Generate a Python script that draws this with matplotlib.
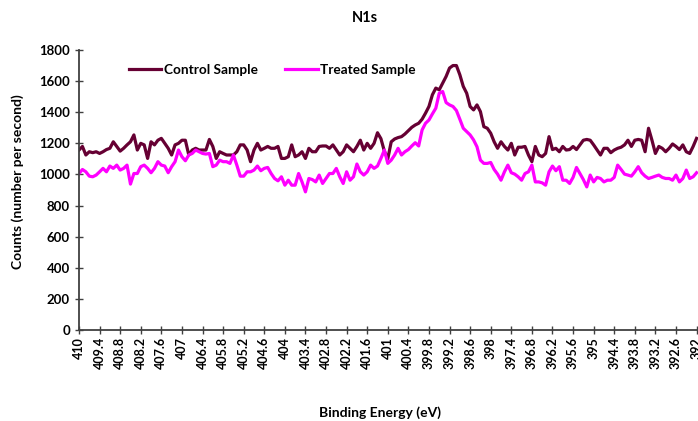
import numpy as np
import matplotlib
matplotlib.use("Agg")
import matplotlib.pyplot as plt

plt.rcParams['font.family'] = ['Lato', 'DejaVu Sans']
plt.rcParams['font.weight'] = 'bold'

# binding energy, 0.1 eV steps from 410 down to 392
energy = np.round(np.arange(4100, 3919, -1) / 10.0, 1)

control = [
    1157, 1180, 1125, 1146, 1140, 1146, 1135, 1146, 1160, 1168,
    1210, 1180, 1150, 1168, 1190, 1210, 1254, 1157, 1200, 1190,
    1103, 1210, 1190, 1220, 1232, 1200, 1168, 1125, 1190, 1200,
    1220, 1220, 1125, 1157, 1168, 1157, 1157, 1157, 1225, 1180,
    1103, 1146, 1135, 1125, 1125, 1125, 1146, 1190, 1190, 1157,
    1082, 1157, 1200, 1157, 1168, 1180, 1168, 1168, 1180, 1103,
    1103, 1114, 1190, 1114, 1125, 1146, 1103, 1168, 1146, 1146,
    1180, 1183, 1183, 1168, 1190, 1157, 1125, 1146, 1190, 1168,
    1146, 1180, 1220, 1157, 1200, 1168, 1200, 1268, 1230, 1150,
    1100, 1210, 1228, 1237, 1243, 1260, 1282, 1303, 1318, 1329,
    1355, 1394, 1437, 1512, 1555, 1544, 1587, 1630, 1684, 1700,
    1700, 1641, 1566, 1522, 1437, 1415, 1447, 1404, 1307, 1297,
    1265, 1210, 1168, 1210, 1180, 1157, 1200, 1125, 1175, 1175,
    1180, 1125, 1082, 1180, 1125, 1114, 1135, 1243, 1160, 1168,
    1146, 1180, 1157, 1160, 1180, 1160, 1190, 1220, 1225, 1220,
    1190, 1157, 1125, 1168, 1168, 1140, 1157, 1168, 1175, 1190,
    1220, 1180, 1220, 1225, 1220, 1146, 1297, 1220, 1135, 1180,
    1168, 1146, 1168, 1196, 1180, 1160, 1190, 1146, 1135, 1180,
    1232,
]

treated = [
    1006, 1032, 1017, 989, 985, 996, 1017, 1039, 1017, 1054,
    1039, 1060, 1028, 1039, 1060, 938, 1006, 1006, 1050, 1060,
    1039, 1011, 1039, 1082, 1060, 1054, 1011, 1050, 1082, 1157,
    1114, 1088, 1125, 1135, 1157, 1146, 1135, 1131, 1135, 1050,
    1060, 1092, 1082, 1082, 1071, 1125, 1060, 989, 989, 1017,
    1017, 1028, 1054, 1024, 1039, 1045, 1006, 974, 959, 985,
    931, 963, 931, 931, 1006, 952, 888, 974, 967, 952,
    996, 942, 974, 1006, 1006, 1039, 985, 942, 1017, 963,
    985, 1067, 1017, 996, 1017, 1060, 1039, 1054, 1103, 1157,
    1071, 1092, 1125, 1168, 1125, 1146, 1160, 1183, 1204, 1183,
    1286, 1329, 1350, 1389, 1426, 1522, 1533, 1462, 1447, 1437,
    1411, 1355, 1297, 1275, 1254, 1222, 1178, 1092, 1071, 1071,
    1077, 1032, 1002, 963, 1017, 1060, 1011, 1002, 985, 963,
    1006, 1017, 1060, 952, 952, 946, 931, 1017, 1054, 1024,
    1050, 963, 963, 942, 981, 1045, 1006, 967, 920, 996,
    952, 981, 974, 952, 963, 963, 981, 1060, 1032, 1002,
    996, 989, 1017, 1050, 1011, 989, 974, 981, 989, 996,
    981, 974, 974, 963, 996, 952, 974, 1028, 974, 985,
    1011,
]

fig = plt.figure(figsize=(6.98, 4.21), dpi=100)
ax = fig.add_axes([79 / 698, 1 - 330 / 421, 621 / 698, 280 / 421])

ax.plot(energy, control, color='#660033', lw=2.3, label='Control Sample')
ax.plot(energy, treated, color='#FF00FF', lw=2.3, label='Treated Sample')

ax.set_xlim(410, 391.9)
ax.set_ylim(0, 1800)
ax.set_yticks(range(0, 1801, 200))
ax.set_xticks(energy[::6])
ax.set_xticklabels([f"{v:g}" for v in energy[::6]], rotation=90)

for s in ['top', 'right']:
    ax.spines[s].set_visible(False)
for s in ['left', 'bottom']:
    ax.spines[s].set_color('#404040')
    ax.spines[s].set_linewidth(1.3)
ax.tick_params(axis='both', direction='inout', length=6, width=1.0,
               color='#404040')
ax.tick_params(axis='y', labelsize=9.5)
ax.tick_params(axis='x', pad=2, labelsize=9)

ax.legend(loc='upper left', bbox_to_anchor=(0.06, 0.995), ncol=2,
          frameon=False, fontsize=9.8, handlelength=2.4, handletextpad=0.2,
          columnspacing=2.0)

fig.text(365 / 698, 1 - 18 / 421, 'N1s', ha='center', va='center', fontsize=10.5, fontweight='bold')
fig.text(18 / 698, 1 - 182 / 421, 'Counts (number per second)', rotation=90,
         ha='center', va='center', fontsize=10, fontweight='bold')
fig.text(380 / 698, 1 - 413 / 421, 'Binding Energy (eV)', ha='center', va='center',
         fontsize=10, fontweight='bold')

fig.savefig('out.png', dpi=100)
